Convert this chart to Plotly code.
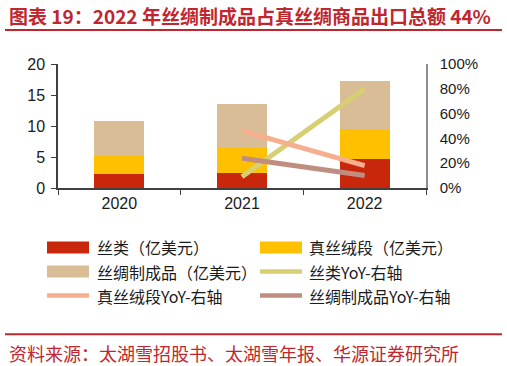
import plotly.graph_objects as go

years = ["2020", "2021", "2022"]
silk_fiber = [2.3, 2.5, 4.6]        # 丝类（亿美元）
silk_fabric = [2.8, 4.0, 4.9]       # 真丝绒段（亿美元）
silk_products = [5.7, 7.1, 7.7]     # 丝绸制成品（亿美元）
yoy_years = ["2021", "2022"]
silk_fiber_yoy = [0.09, 0.80]
silk_fabric_yoy = [0.46, 0.18]
silk_products_yoy = [0.24, 0.10]

left_ticks = [0, 5, 10, 15, 20]
right_ticks = [0, 0.2, 0.4, 0.6, 0.8, 1.0]
right_tick_labels = ["0%", "20%", "40%", "60%", "80%", "100%"]

names = ["丝类（亿美元）", "真丝绒段（亿美元）", "丝绸制成品（亿美元）",
         "丝类YoY-右轴", "真丝绒段YoY-右轴", "丝绸制成品YoY-右轴"]
colors = ["#C8270C", "#FFC000", "#D8BD97", "#D7CF72", "#F6AE8E", "#BF8E80"]

W, H = 507, 366
L, R, T, B = 58, 426, 64, 187.7

fig = go.Figure()
for vals, nm, c in zip([silk_fiber, silk_fabric, silk_products], names[:3], colors[:3]):
    fig.add_trace(go.Bar(x=years, y=vals, name=nm, marker=dict(color=c, line=dict(width=0)),
                         width=0.41, hoverinfo="skip"))
for vals, nm, c in zip([silk_fiber_yoy, silk_fabric_yoy, silk_products_yoy], names[3:], colors[3:]):
    fig.add_trace(go.Scatter(x=yoy_years, y=vals, name=nm, yaxis="y2", mode="lines",
                             line=dict(color=c, width=5), hoverinfo="skip"))

def px(xp):
    return (xp - L) / (R - L)

def py(yp):
    return (B - yp) / (B - T)

shapes = []
annotations = []
# title and rules
annotations.append(dict(x=px(7), y=py(15.5), xref="paper", yref="paper", xanchor="left", yanchor="middle",
                        text="<b>图表 19：2022 年丝绸制成品占真丝绸商品出口总额 44%</b>", showarrow=False,
                        font=dict(family="Noto Sans CJK SC", size=19, color="#C0262D")))
shapes.append(dict(type="line", xref="paper", yref="paper", x0=px(5), x1=px(502), y0=py(30), y1=py(30),
                   line=dict(color="#C0262D", width=2)))
shapes.append(dict(type="line", xref="paper", yref="paper", x0=px(5), x1=px(502), y0=py(333.5), y1=py(333.5),
                   line=dict(color="#C0262D", width=2)))
annotations.append(dict(x=px(7), y=py(352), xref="paper", yref="paper", xanchor="left", yanchor="middle",
                        text="资料来源：太湖雪招股书、太湖雪年报、华源证券研究所", showarrow=False,
                        font=dict(family="Noto Sans CJK SC", size=18, color="#C0262D")))

# legend
rows = [247, 271, 295]
cols = [(47, 89, 95), (260, 302, 307)]
for i, (nm, c) in enumerate(zip(names, colors)):
    r, col = divmod(i, 2)
    x0, x1, xt = cols[col]
    yc = rows[r]
    if i < 3:
        shapes.append(dict(type="rect", xref="paper", yref="paper", x0=px(x0), x1=px(x1),
                           y0=py(yc - 6), y1=py(yc + 6), fillcolor=c, line=dict(width=0)))
    else:
        shapes.append(dict(type="line", xref="paper", yref="paper", x0=px(x0), x1=px(x1),
                           y0=py(yc), y1=py(yc), line=dict(color=c, width=4.5)))
    annotations.append(dict(x=px(xt), y=py(yc), xref="paper", yref="paper", xanchor="left", yanchor="middle",
                            text=nm, showarrow=False,
                            font=dict(family="Noto Sans CJK SC", size=16, color="#1a1a1a")))

fig.update_layout(
    width=W, height=H, barmode="stack", showlegend=False,
    margin=dict(l=L, r=W - R, t=T, b=H - B, pad=0),
    plot_bgcolor="white", paper_bgcolor="white",
    font=dict(family="Liberation Sans", size=16, color="#1a1a1a"),
    xaxis=dict(type="category", tickson="boundaries", ticks="outside", ticklen=5, tickcolor="#404040",
               showline=True, linecolor="#404040", linewidth=1.5, showgrid=False,
               tickfont=dict(size=16), fixedrange=True),
    yaxis=dict(range=[0, 20], tickvals=left_ticks, ticks="outside", ticklen=5, tickcolor="#404040",
               showline=True, linecolor="#404040", linewidth=1.5, showgrid=False, zeroline=False,
               tickfont=dict(size=16), ticklabelstandoff=3),
    yaxis2=dict(range=[0, 1], overlaying="y", side="right", tickvals=right_ticks, ticktext=right_tick_labels,
                showline=True, linecolor="#8c8c8c", linewidth=1.5, ticks="", showgrid=False, zeroline=False,
                tickfont=dict(size=15), ticklabelstandoff=9),
    shapes=shapes, annotations=annotations,
)
fig.write_html("out.html", config={"displayModeBar": False},
               post_script="document.body.style.margin='0';document.body.style.overflow='hidden';")
